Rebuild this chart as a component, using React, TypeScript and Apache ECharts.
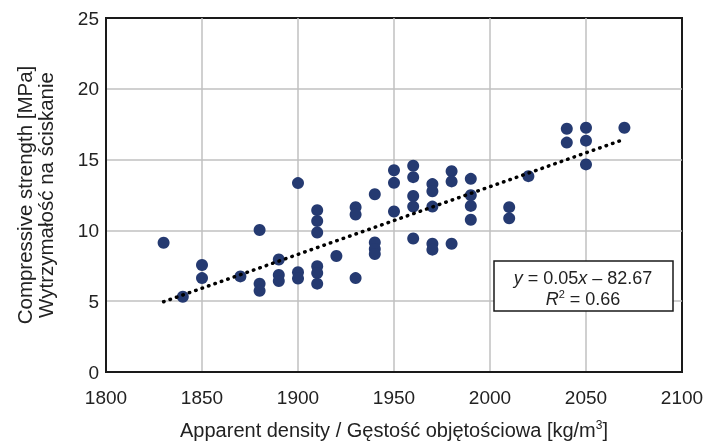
import React, { useEffect, useRef } from 'react';
import * as echarts from 'echarts';

// Apparent density [kg/m3] for each specimen
const densityValues = [
  1830,
  1840,
  1850, 1850,
  1870,
  1880, 1880, 1880,
  1890, 1890, 1890,
  1900, 1900, 1900,
  1910, 1910, 1910, 1910, 1910, 1910,
  1920,
  1930, 1930, 1930,
  1940, 1940, 1940, 1940,
  1950, 1950, 1950,
  1960, 1960, 1960, 1960, 1960,
  1970, 1970, 1970, 1970, 1970,
  1980, 1980, 1980,
  1990, 1990, 1990, 1990,
  2010, 2010,
  2020,
  2040, 2040,
  2050, 2050, 2050,
  2070,
];

// Compressive strength [MPa] for each specimen
const strengthValues = [
  9.13,
  5.31,
  7.56, 6.63,
  6.75,
  10.03, 6.24, 5.73,
  7.94, 6.85, 6.42,
  13.34, 7.05, 6.6,
  11.43, 10.66, 9.85, 7.47, 7.0, 6.24,
  8.19,
  11.64, 11.12, 6.63,
  12.55, 9.15, 8.68, 8.33,
  14.25, 13.36, 11.33,
  14.57, 13.76, 12.43, 11.68, 9.43,
  13.27, 12.76, 11.68, 9.06, 8.64,
  14.18, 13.46, 9.06,
  13.64, 12.48, 11.73, 10.75,
  11.64, 10.85,
  13.83,
  17.18, 16.2,
  17.25, 16.34, 14.66,
  17.25,
];

// Linear trend line end points
const trendDensity = [1830, 2068];
const trendStrength = [4.96, 16.34];

const xTicks = [1800, 1850, 1900, 1950, 2000, 2050, 2100];
const yTicks = [0, 5, 10, 15, 20, 25];

const equationLine = '{i|y}{n| = 0.05}{i|x}{n| – 82.67}';
const r2Line = '{i|R}{sup|2}{n| = 0.66}';

const FONT = '"Liberation Sans", Arial, Helvetica, sans-serif';

export default function App() {
  const ref = useRef<HTMLDivElement>(null);

  useEffect(() => {
    document.body.style.margin = '0';
    if (!ref.current) return;
    const chart = echarts.init(ref.current, null, { renderer: 'svg' });

    const points = densityValues.map((d, i) => [d, strengthValues[i]]);
    const trend = trendDensity.map((d, i) => [d, trendStrength[i]]);

    const eqRich = {
      n: { fontSize: 18, lineHeight: 21, fontFamily: FONT, fill: '#222' },
      i: { fontStyle: 'italic', fontSize: 18, lineHeight: 21, fontFamily: FONT, fill: '#222' },
      sup: { fontSize: 11, lineHeight: 21, verticalAlign: 'top', fontFamily: FONT, fill: '#222' },
    };

    chart.setOption({
      animation: false,
      textStyle: { fontFamily: FONT },
      grid: {
        left: 106,
        top: 18,
        right: 36,
        bottom: 69,
        show: true,
        borderColor: '#1a1a1a',
        borderWidth: 2,
        backgroundColor: 'transparent',
      },
      xAxis: {
        type: 'value',
        min: xTicks[0],
        max: xTicks[xTicks.length - 1],
        interval: 50,
        axisLine: { show: true, lineStyle: { color: '#1a1a1a', width: 2 } },
        axisTick: { show: false },
        axisLabel: {
          color: '#222',
          fontSize: 19,
          margin: 16,
          fontFamily: FONT,
          formatter: (v: number) => String(v),
        },
        splitLine: { show: true, showMinLine: false, showMaxLine: false, lineStyle: { color: '#c0c0c0', width: 1.5 } },
        name: 'Apparent density / Gęstość objętościowa [kg/m{sup|3}]',
        nameLocation: 'middle',
        nameGap: 47,
        nameTextStyle: {
          color: '#222',
          fontSize: 20,
          fontFamily: FONT,
          rich: {
            sup: { fontSize: 12, verticalAlign: 'top', padding: [0, 0, 10, 0], color: '#222', fontFamily: FONT },
          },
        },
      },
      yAxis: {
        type: 'value',
        min: yTicks[0],
        max: yTicks[yTicks.length - 1],
        interval: 5,
        axisLine: { show: true, lineStyle: { color: '#1a1a1a', width: 2 } },
        axisTick: { show: false },
        axisLabel: {
          color: '#222',
          fontSize: 19,
          margin: 7,
          fontFamily: FONT,
          formatter: (v: number) => String(v),
        },
        splitLine: { show: true, showMinLine: false, showMaxLine: false, lineStyle: { color: '#c0c0c0', width: 1.5 } },
        name: 'Compressive strength [MPa]\nWytrzymałość na ściskanie',
        nameLocation: 'middle',
        nameRotate: 90,
        nameGap: 50,
        nameTextStyle: {
          color: '#222',
          fontSize: 20.5,
          lineHeight: 21,
          fontFamily: FONT,
          padding: [0, 0, 0, 0],
        },
      },
      series: [
        {
          type: 'scatter',
          data: points,
          symbol: 'circle',
          symbolSize: 12,
          itemStyle: { color: '#253A71', opacity: 1 },
          z: 3,
        },
        {
          type: 'line',
          data: trend,
          symbol: 'none',
          silent: true,
          lineStyle: { color: '#000', width: 3.5, type: [0.5, 6.3], cap: 'round' },
          z: 4,
        },
      ],
      graphic: [
        {
          type: 'rect',
          z: 100,
          shape: { x: 494, y: 261, width: 179, height: 50 },
          style: { fill: '#fff', stroke: '#1a1a1a', lineWidth: 1.5 },
        },
        {
          type: 'text',
          z: 101,
          x: 583,
          y: 278,
          style: {
            text: equationLine,
            align: 'center',
            verticalAlign: 'middle',
            fontSize: 18,
            lineHeight: 21,
            fontFamily: FONT,
            fill: '#222',
            rich: eqRich,
          },
        },
        {
          type: 'text',
          z: 101,
          x: 583,
          y: 299,
          style: {
            text: r2Line,
            align: 'center',
            verticalAlign: 'middle',
            fontSize: 18,
            lineHeight: 21,
            fontFamily: FONT,
            fill: '#222',
            rich: eqRich,
          },
        },
      ],
    });

    return () => chart.dispose();
  }, []);

  return (
    <div
      ref={ref}
      style={{ position: 'fixed', left: 0, top: 0, width: 718, height: 445 }}
    />
  );
}
